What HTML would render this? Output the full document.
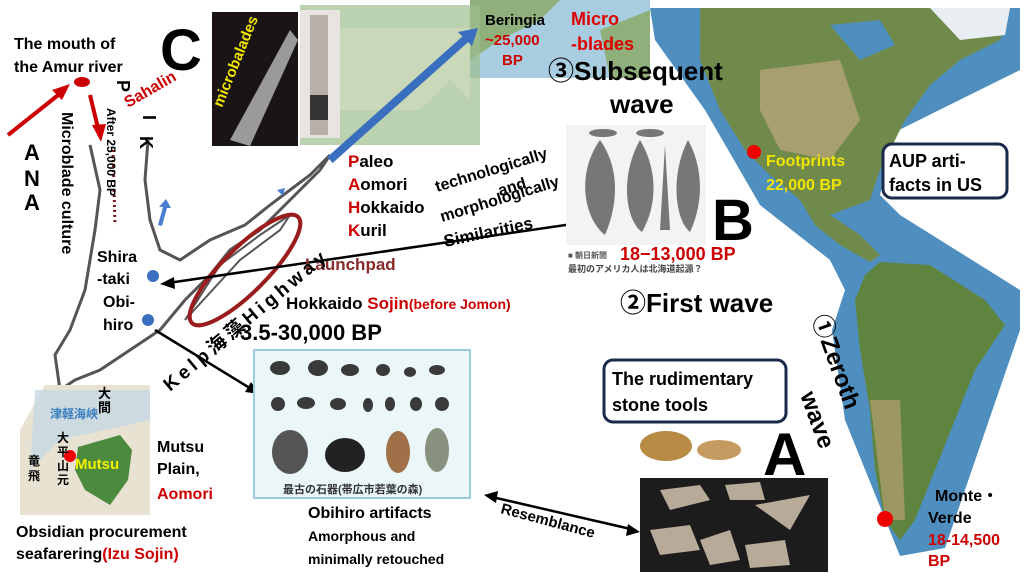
<!DOCTYPE html>
<html><head><meta charset="utf-8"><style>
html,body{margin:0;padding:0;background:#fff;}
svg{display:block}
text{font-family:"Liberation Sans","Noto Sans CJK JP",sans-serif;font-weight:bold}
</style></head><body>
<svg width="1024" height="576" viewBox="0 0 1024 576" xmlns="http://www.w3.org/2000/svg">
<rect width="1024" height="576" fill="#fff"/>
<!-- Americas map band -->
<polygon points="650,8 1020,8 1020,70 895,132 880,195 900,215 1020,290 1020,330 945,548 900,556 845,420 832,330 845,290 830,260 760,205 705,110 655,40" fill="#4f8fc0"/>
<path d="M700,8 L1010,8 L1000,40 L960,60 L930,85 L905,120 L880,170 L870,200 L830,215 L800,200 L770,175 L745,150 L720,110 L700,60 Z" fill="#6f8a4a"/>
<path d="M760,70 L840,60 L860,120 L830,160 L780,150 L760,110 Z" fill="#b7a47a" opacity=".8"/>
<path d="M930,8 L1010,8 L1005,35 L960,40 Z" fill="#e8eef2"/>
<path d="M830,25 L880,20 L895,45 L860,60 Z" fill="#4f8fc0"/>
<path d="M800,200 L830,215 L860,235 L880,255 L870,262 L840,245 L815,225 Z" fill="#6f8a4a"/>
<path d="M880,262 L930,265 L985,300 L1005,325 L975,370 L955,420 L935,470 L915,520 L900,540 L885,520 L875,470 L870,410 L860,350 L855,300 L865,275 Z" fill="#5f8440"/>
<path d="M870,400 L900,400 L905,520 L885,520 Z" fill="#b8a070" opacity=".7"/>
<!-- top small map -->
<rect x="470" y="0" width="180" height="78" fill="#a9cde0"/>
<path d="M470,0 L560,0 L540,20 L500,40 L470,60 Z" fill="#8fb07a"/>
<path d="M600,30 L650,10 L650,78 L610,78 Z" fill="#8fb07a"/>
<rect x="300" y="5" width="180" height="140" fill="#9dbf8f" opacity=".7"/>
<polygon points="340,28 470,28 470,100 450,80 420,110 340,110" fill="#c8d8b8"/>
<!-- microblade photos -->
<rect x="212" y="12" width="86" height="134" fill="#1a1414"/>
<path d="M230,140 L290,30 L298,40 L250,146 Z" fill="#9a9a9a"/>
<text transform="translate(222,108) rotate(-68)" font-size="15" fill="#f2e600">microbalades</text>
<rect x="300" y="10" width="40" height="128" fill="#e8e4e0"/>
<rect x="310" y="15" width="18" height="120" fill="#b8b0a8"/>
<rect x="310" y="95" width="18" height="25" fill="#333"/>
<!-- Hokkaido outline area -->
<path d="M90,145 L100,190 L95,230 L85,290 L70,330 L55,355 L60,390 L75,380 L100,370 L130,350 L160,330 L185,300 L210,275 L230,250 L260,230 L290,200 L320,170 L330,155 L310,175 L270,205 L245,225 L210,240 L180,260 L160,250 L150,220 L145,180 L148,140" fill="none" stroke="#555" stroke-width="3"/>
<path d="M185,320 L240,260 L280,230 L290,215 L260,235 L220,265 Z" fill="none" stroke="#555" stroke-width="2"/>
<ellipse cx="245" cy="270" rx="75" ry="22" transform="rotate(-45 245 270)" fill="none" stroke="#9b1c1c" stroke-width="4"/>
<!-- arrows red -->
<line x1="8" y1="135" x2="62" y2="92" stroke="#c00" stroke-width="4"/>
<polygon points="70,84 52,90 62,100" fill="#c00"/>
<ellipse cx="82" cy="82" rx="8" ry="5" fill="#c00"/>
<line x1="90" y1="95" x2="98" y2="128" stroke="#c00" stroke-width="4"/>
<polygon points="101,142 92,125 106,124" fill="#c00"/>
<line x1="113" y1="150" x2="115" y2="225" stroke="#7a1a1a" stroke-width="3" stroke-dasharray="2,3"/>
<!-- blue arrow to beringia -->
<line x1="330" y1="160" x2="470" y2="35" stroke="#3a6fc0" stroke-width="8"/>
<polygon points="478,28 458,32 472,46" fill="#3a6fc0"/>
<path d="M268,205 l12,-12 l-3,-3 l8,-2 l-2,8 l-3,-3 l-12,12z" fill="#4a7fd0"/>
<path d="M158,225 l5,-18 l-4,0 l7,-8 l5,9 l-4,0 l-5,18z" fill="#4a7fd0"/>
<!-- black arrows -->
<line x1="600" y1="220" x2="168" y2="283" stroke="#000" stroke-width="2.5"/>
<polygon points="160,284 174,277 175,289" fill="#000"/>
<line x1="155" y1="330" x2="253" y2="390" stroke="#000" stroke-width="2.5"/>
<polygon points="260,394 245,392 251,382" fill="#000"/>
<line x1="492" y1="497" x2="635" y2="530" stroke="#000" stroke-width="2.5"/>
<polygon points="484,495 498,491 496,503" fill="#000"/>
<polygon points="640,532 626,536 628,524" fill="#000"/>
<circle cx="153" cy="276" r="6" fill="#3a6fc0"/>
<circle cx="148" cy="320" r="6" fill="#3a6fc0"/>
<!-- Obihiro artifacts image -->
<rect x="254" y="350" width="216" height="148" fill="#eaf6f8" stroke="#9cd" stroke-width="2"/>
<g fill="#3a3a3a">
<ellipse cx="280" cy="368" rx="10" ry="7"/><ellipse cx="318" cy="368" rx="10" ry="8"/><ellipse cx="350" cy="370" rx="9" ry="6"/><ellipse cx="383" cy="370" rx="7" ry="6"/><ellipse cx="410" cy="372" rx="6" ry="5"/><ellipse cx="437" cy="370" rx="8" ry="5"/>
<ellipse cx="278" cy="404" rx="7" ry="7"/><ellipse cx="306" cy="403" rx="9" ry="6"/><ellipse cx="338" cy="404" rx="8" ry="6"/><ellipse cx="368" cy="405" rx="5" ry="7"/><ellipse cx="390" cy="404" rx="5" ry="7"/><ellipse cx="416" cy="404" rx="6" ry="7"/><ellipse cx="442" cy="404" rx="7" ry="7"/>
<ellipse cx="290" cy="452" rx="18" ry="22" fill="#555"/><ellipse cx="345" cy="455" rx="20" ry="17" fill="#222"/><ellipse cx="398" cy="452" rx="12" ry="21" fill="#a07048"/><ellipse cx="437" cy="450" rx="12" ry="22" fill="#889080"/>
</g>
<text x="283" y="493" font-size="11" font-weight="normal" fill="#333">最古の石器(帯広市若葉の森)</text>
<!-- Mutsu map -->
<polygon points="20,430 45,385 150,385 150,515 20,515" fill="#e8e2d2"/>
<path d="M35,390 L150,390 L150,420 L60,440 L30,470 Z" fill="#c6d8e4" opacity=".8"/>
<path d="M78,447 L120,435 L132,450 L128,480 L110,505 L85,490 L75,470 Z" fill="#4c8a3e"/>
<circle cx="70" cy="456" r="6" fill="#e00"/>
<text x="75" y="469" font-size="15" fill="#f4f000">Mutsu</text>
<text x="50" y="418" font-size="12" fill="#3a7fc0" font-weight="normal">津軽海峡</text>
<text x="98" y="398" font-size="13" fill="#000" font-weight="normal">大</text>
<text x="98" y="412" font-size="13" fill="#000" font-weight="normal">間</text>
<text x="28" y="465" font-size="12" font-weight="normal">竜</text><text x="28" y="480" font-size="12" font-weight="normal">飛</text>
<text x="57" y="442" font-size="12" font-weight="normal">大</text><text x="57" y="456" font-size="12" font-weight="normal">平</text><text x="57" y="470" font-size="12" font-weight="normal">山</text><text x="57" y="484" font-size="12" font-weight="normal">元</text>
<!-- stone tools A -->
<rect x="640" y="478" width="188" height="94" fill="#1c1c1c"/>
<g fill="#b8aa98"><polygon points="660,490 700,485 710,500 670,510"/><polygon points="725,485 760,482 765,500 730,500"/><polygon points="755,505 810,495 790,530"/><polygon points="650,530 690,525 700,550 660,555"/><polygon points="700,540 730,530 740,560 710,565"/><polygon points="745,545 785,540 790,565 750,568"/></g>
<ellipse cx="666" cy="446" rx="26" ry="15" fill="#b88b45"/>
<ellipse cx="719" cy="450" rx="22" ry="10" fill="#c49a60"/>
<!-- B image -->
<rect x="566" y="125" width="140" height="120" fill="#f3f3f3"/>
<g fill="#777"><path d="M600,140 C575,175 585,220 605,235 C620,200 618,165 600,140Z"/><path d="M640,140 C620,175 625,220 642,232 C660,200 655,165 640,140Z"/><path d="M665,145 L670,230 L660,230Z"/><path d="M688,140 C670,175 675,220 690,232 C705,200 702,165 688,140Z"/><ellipse cx="603" cy="133" rx="14" ry="4"/><ellipse cx="650" cy="133" rx="14" ry="4"/></g>
<text x="568" y="258" font-size="8" font-weight="normal" fill="#555">■ 朝日新聞</text>
<text x="568" y="272" font-size="9" font-weight="normal" fill="#444">最初のアメリカ人は北海道起源？</text>
<!-- boxes -->
<rect x="604" y="360" width="182" height="62" rx="9" fill="#fff" stroke="#1a2a4a" stroke-width="3"/>
<text x="612" y="385" font-size="18">The rudimentary</text>
<text x="612" y="411" font-size="18">stone tools</text>
<rect x="883" y="144" width="124" height="54" rx="9" fill="#fff" stroke="#1a2a4a" stroke-width="3"/>
<text x="889" y="167" font-size="18">AUP arti-</text>
<text x="889" y="191" font-size="18">facts in US</text>
<circle cx="754" cy="152" r="7" fill="#e00"/>
<circle cx="885" cy="519" r="8" fill="#e00"/>
<!-- texts -->
<text x="14" y="49" font-size="16">The mouth of</text>
<text x="14" y="72" font-size="16">the Amur river</text>
<text x="160" y="70" font-size="58" font-weight="bold">C</text>
<text transform="translate(117,80) rotate(90)" font-size="18">P</text>
<text transform="translate(143,115) rotate(90)" font-size="18">I</text>
<text transform="translate(140,136) rotate(90)" font-size="18">K</text>
<text transform="translate(128,108) rotate(-30)" font-size="16" fill="#c00">Sahalin</text>
<text x="24" y="160" font-size="22">A</text><text x="24" y="186" font-size="22">N</text><text x="24" y="210" font-size="22">A</text>
<text transform="translate(62,112) rotate(90)" font-size="16">Microblade culture</text>
<text transform="translate(107,108) rotate(90)" font-size="12">After 25,000 BP</text>
<text x="97" y="262" font-size="16">Shira</text>
<text x="97" y="284" font-size="16">-taki</text>
<text x="103" y="307" font-size="16">Obi-</text>
<text x="103" y="330" font-size="16">hiro</text>
<text x="348" y="167" font-size="17"><tspan fill="#c00">P</tspan>aleo</text>
<text x="348" y="190" font-size="17"><tspan fill="#c00">A</tspan>omori</text>
<text x="348" y="213" font-size="17"><tspan fill="#c00">H</tspan>okkaido</text>
<text x="348" y="236" font-size="17"><tspan fill="#c00">K</tspan>uril</text>
<text x="305" y="270" font-size="17" fill="#8a2a2a">Launchpad</text>
<text transform="translate(170,392) rotate(-40)" font-size="19" letter-spacing="4">Kelp海藻Highway</text>
<text x="286" y="309" font-size="17">Hokkaido <tspan fill="#c00">Sojin</tspan><tspan font-size="14" fill="#c00">(before Jomon)</tspan></text>
<text x="240" y="340" font-size="22">3.5-30,000 BP</text>
<text transform="translate(437,192) rotate(-17)" font-size="16">technologically</text>
<text transform="translate(500,196) rotate(-17)" font-size="16">and</text>
<text transform="translate(442,222) rotate(-17)" font-size="16">morphologically</text>
<text transform="translate(445,247) rotate(-12)" font-size="17">Similarities</text>
<text x="485" y="25" font-size="15">Beringia</text>
<text x="485" y="45" font-size="15" fill="#c00">~25,000</text>
<text x="502" y="65" font-size="15" fill="#c00">BP</text>
<text x="571" y="25" font-size="18" fill="#d00">Micro</text>
<text x="571" y="50" font-size="18" fill="#d00">-blades</text>
<text x="548" y="80" font-size="26">③Subsequent</text>
<text x="610" y="113" font-size="26">wave</text>
<text x="712" y="240" font-size="58">B</text>
<text x="620" y="260" font-size="18" fill="#c00">18−13,000 BP</text>
<text x="620" y="312" font-size="26">②First wave</text>
<text x="766" y="166" font-size="16" fill="#f2e600">Footprints</text>
<text x="766" y="190" font-size="16" fill="#f2e600">22,000 BP</text>
<text transform="translate(812,318) rotate(70)" font-size="24">①Zeroth</text>
<text transform="translate(800,395) rotate(70)" font-size="24">wave</text>
<text x="763" y="475" font-size="60">A</text>
<text x="935" y="501" font-size="16">Monte・</text>
<text x="928" y="523" font-size="16">Verde</text>
<text x="928" y="545" font-size="16" fill="#c00">18-14,500</text>
<text x="928" y="566" font-size="16" fill="#c00">BP</text>
<text x="157" y="452" font-size="16">Mutsu</text>
<text x="157" y="474" font-size="16">Plain,</text>
<text x="157" y="499" font-size="16" fill="#c00">Aomori</text>
<text x="16" y="537" font-size="16">Obsidian procurement</text>
<text x="16" y="559" font-size="16">seafarering<tspan fill="#c00">(Izu Sojin)</tspan></text>
<text x="308" y="518" font-size="16">Obihiro artifacts</text>
<text x="308" y="541" font-size="14">Amorphous and</text>
<text x="308" y="564" font-size="14">minimally retouched</text>
<text transform="translate(500,513) rotate(15)" font-size="15">Resemblance</text>
</svg>
</body></html>
